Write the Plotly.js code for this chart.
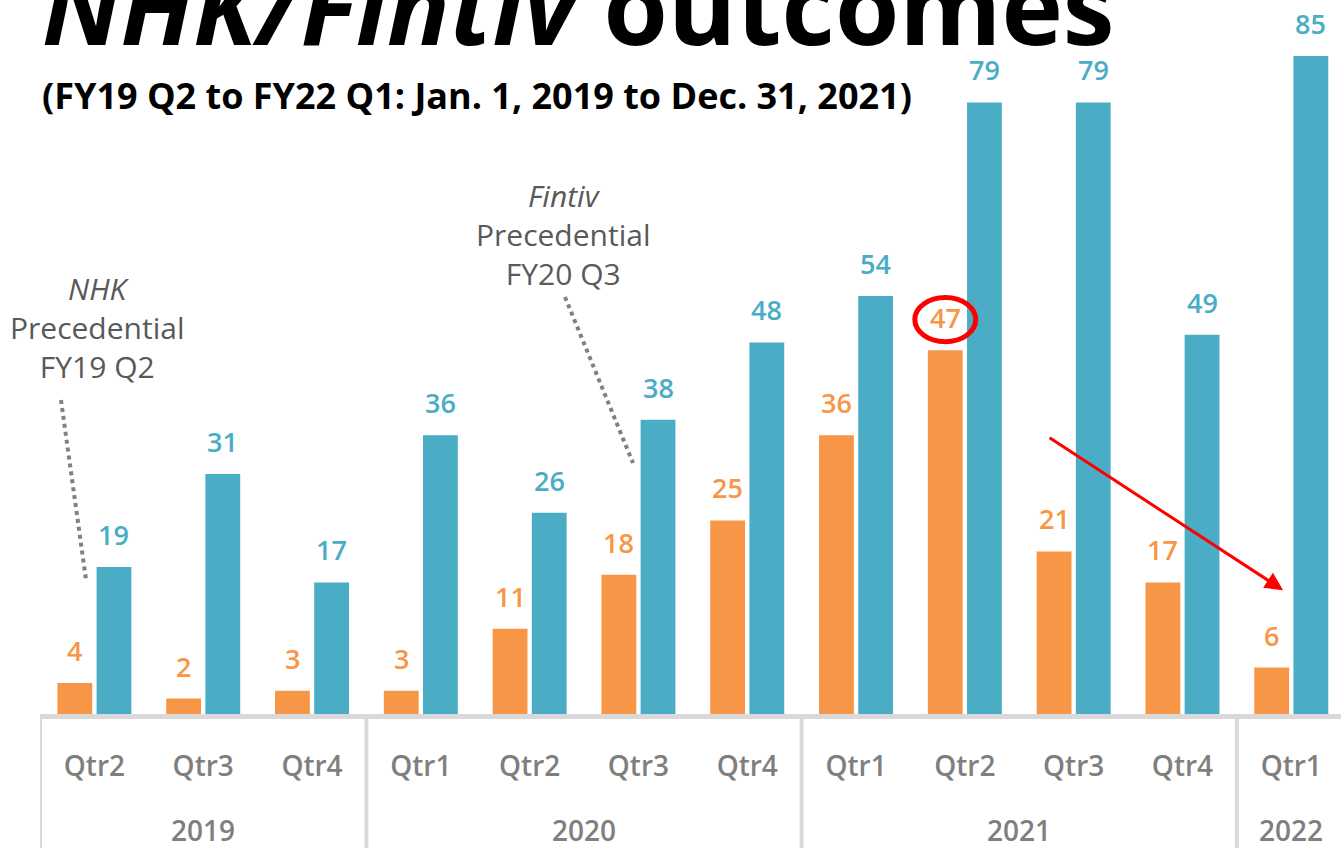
<!DOCTYPE html>
<html>
<head>
<meta charset="utf-8">
<script src="https://cdn.plot.ly/plotly-3.0.1.min.js"></script>
<style>html,body{margin:0;padding:0;background:#fff;}#chart{width:1341px;height:848px;}</style>
</head>
<body>
<div id="chart"></div>
<script>
// ---- data ----
const quarters = ["Qtr2","Qtr3","Qtr4","Qtr1","Qtr2","Qtr3","Qtr4","Qtr1","Qtr2","Qtr3","Qtr4","Qtr1"];
const years = ["2019","2020","2021","2022"];
const yearSpans = [[0,2],[3,6],[7,10],[11,11]];
const orangeValues = [4,2,3,3,11,18,25,36,47,21,17,6];
const blueValues = [19,31,17,36,26,38,48,54,79,79,49,85];

const ORANGE = "#F79646", BLUE = "#4BACC6";
const FONT = "Open Sans, Noto Sans, DejaVu Sans, sans-serif";
const idx = quarters.map((q,i)=>i);
const W = 0.32, OFF = 0.18;

const traces = [
  {type:"bar", x:idx, y:orangeValues, width:W, offset:-OFF-W/2, marker:{color:ORANGE}, hoverinfo:"skip", showlegend:false},
  {type:"bar", x:idx, y:blueValues, width:W, offset:OFF-W/2, marker:{color:BLUE}, hoverinfo:"skip", showlegend:false}
];

const annotations = [];
idx.forEach(i=>{
  annotations.push({x:i-OFF, y:orangeValues[i], xref:"x", yref:"y", text:String(orangeValues[i]), showarrow:false, yanchor:"bottom", yshift:12, font:{family:FONT, size:27, weight:600, color:ORANGE}});
  annotations.push({x:i+OFF, y:blueValues[i], xref:"x", yref:"y", text:String(blueValues[i]), showarrow:false, yanchor:"bottom", yshift:12, font:{family:FONT, size:27, weight:600, color:BLUE}});
});
years.forEach((yr,k)=>{
  annotations.push({x:(yearSpans[k][0]+yearSpans[k][1])/2, y:-0.1625, xref:"x", yref:"paper", text:yr, showarrow:false, yanchor:"middle", font:{family:FONT, size:28, weight:600, color:"#7f7f7f"}});
});
// title
annotations.push({x:0, y:1, xref:"paper", yref:"paper", xanchor:"left", yanchor:"bottom", yshift:-77, text:"<b><i>NHK/Fintiv</i> outcomes</b>", showarrow:false, font:{family:FONT, size:104, color:"#000"}});
annotations.push({x:0, y:1, xref:"paper", yref:"paper", xanchor:"left", yanchor:"middle", yshift:-95, text:"<b>(FY19 Q2 to FY22 Q1: Jan. 1, 2019 to Dec. 31, 2021)</b>", showarrow:false, font:{family:FONT, size:36, color:"#000"}});
// callouts
annotations.push({x:0.024, y:49.9, xref:"x", yref:"y", text:"<i>NHK</i><br>Precedential<br>FY19 Q2", showarrow:false, font:{family:FONT, size:30, color:"#595959"}});
annotations.push({x:4.307, y:61.9, xref:"x", yref:"y", text:"<i>Fintiv</i><br>Precedential<br>FY20 Q3", showarrow:false, font:{family:FONT, size:30, color:"#595959"}});
// red arrow
annotations.push({x:10.925, y:16.0, ax:8.765, ay:35.8, xref:"x", yref:"y", axref:"x", ayref:"y", showarrow:true, arrowhead:2, arrowsize:1.2, arrowwidth:3, arrowcolor:"#FF0000", text:""});

const maxO = orangeValues.indexOf(Math.max(...orangeValues.slice(0,11)));
const shapes = [];
[-0.5,2.5,6.5,10.5].forEach(xv=>{
  shapes.push({type:"line", xref:"x", yref:"paper", x0:xv, x1:xv, y0:0, y1:-0.2, line:{color:"#d9d9d9", width:4}});
});
shapes.push({type:"line", xref:"x", yref:"y", x0:-0.307, y0:40.56, x1:-0.077, y1:17.31, line:{color:"#808080", width:4, dash:"dot"}});
shapes.push({type:"line", xref:"x", yref:"y", x0:4.325, y0:53.87, x1:4.95, y1:32.42, line:{color:"#808080", width:4, dash:"dot"}});
shapes.push({type:"circle", xref:"x", yref:"y", x0:maxO-OFF-0.28, x1:maxO-OFF+0.28, y0:orangeValues[maxO]+1.1, y1:orangeValues[maxO]+6.8, line:{color:"#FF0000", width:5}});

const layout = {
  width:1341, height:848,
  margin:{l:40, r:0, t:0, b:134},
  paper_bgcolor:"#fff", plot_bgcolor:"#fff",
  barmode:"overlay",
  font:{family:FONT},
  xaxis:{range:[-0.5,11.457], tickvals:idx, ticktext:quarters, showgrid:false, zeroline:false,
         showline:true, linecolor:"#d9d9d9", linewidth:5, ticks:"", ticklabelstandoff:23,
         tickfont:{family:FONT, size:28, weight:600, color:"#7f7f7f"}, fixedrange:true},
  yaxis:{range:[0,92.24], visible:false, fixedrange:true},
  annotations:annotations, shapes:shapes
};
Plotly.newPlot("chart", traces, layout, {displayModeBar:false, staticPlot:true});
</script>
</body>
</html>
